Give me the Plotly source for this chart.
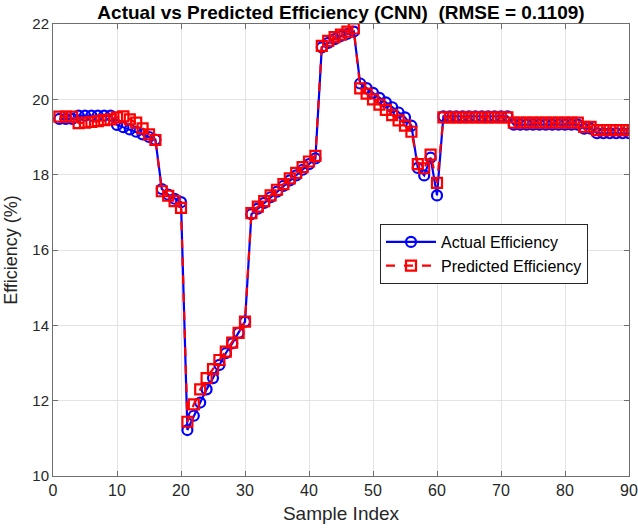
import plotly.graph_objects as go

sample_index = list(range(1, 91))

actual = [
    19.48, 19.48, 19.48, 19.57, 19.57, 19.57, 19.57, 19.57, 19.57, 19.32,
    19.26, 19.20, 19.14, 19.07, 19.00, 18.93, 17.62, 17.47, 17.36, 17.27,
    11.22, 11.60, 11.95, 12.30, 12.60, 12.95, 13.26, 13.52, 13.80, 14.10,
    16.95, 17.10, 17.25, 17.40, 17.55, 17.70, 17.85, 17.98, 18.13, 18.28,
    18.43, 21.38, 21.50, 21.60, 21.68, 21.74, 21.80, 20.42, 20.30, 20.17,
    20.04, 19.92, 19.79, 19.65, 19.52, 19.30, 18.18, 17.98, 18.45, 17.45,
    19.55, 19.55, 19.55, 19.55, 19.55, 19.55, 19.55, 19.55, 19.55, 19.55,
    19.55, 19.33, 19.33, 19.33, 19.33, 19.33, 19.33, 19.33, 19.33, 19.33,
    19.33, 19.33, 19.22, 19.22, 19.10, 19.10, 19.10, 19.10, 19.10, 19.10,
]

predicted = [
    19.54, 19.54, 19.54, 19.37, 19.38, 19.40, 19.42, 19.45, 19.47, 19.52,
    19.55, 19.47, 19.38, 19.23, 19.07, 18.92, 17.56, 17.44, 17.30, 17.12,
    11.44, 11.90, 12.30, 12.60, 12.84, 13.08, 13.30, 13.54, 13.80, 14.10,
    16.98, 17.15, 17.30, 17.45, 17.60, 17.75, 17.90, 18.05, 18.20, 18.35,
    18.50, 21.42, 21.55, 21.65, 21.72, 21.80, 21.88, 20.29, 20.15, 20.00,
    19.86, 19.72, 19.58, 19.44, 19.30, 19.14, 18.28, 18.17, 18.53, 17.78,
    19.52, 19.52, 19.52, 19.52, 19.52, 19.52, 19.52, 19.52, 19.52, 19.52,
    19.52, 19.38, 19.38, 19.38, 19.38, 19.38, 19.38, 19.38, 19.38, 19.38,
    19.38, 19.38, 19.27, 19.27, 19.18, 19.18, 19.18, 19.18, 19.18, 19.18,
]

x_ticks = [0, 10, 20, 30, 40, 50, 60, 70, 80, 90]
y_ticks = [10, 12, 14, 16, 18, 20, 22]

FONT = "Liberation Sans, Arial"

fig = go.Figure()
fig.add_trace(go.Scatter(
    x=sample_index, y=actual, mode="lines+markers", name="Actual Efficiency",
    line=dict(color="#0000FF", width=2.2),
    marker=dict(symbol="circle-open", size=10, color="#0000FF", line=dict(width=2.2, color="#0000FF")),
))
fig.add_trace(go.Scatter(
    x=sample_index, y=predicted, mode="lines+markers", name="Predicted Efficiency",
    line=dict(color="#FF0000", width=2.2, dash="dash"),
    marker=dict(symbol="square-open", size=10, color="#FF0000", line=dict(width=2.2, color="#FF0000")),
))

axis_common = dict(
    showgrid=True, gridcolor="#E3E3E3", gridwidth=1,
    showline=True, linecolor="#6E6E6E", linewidth=1, mirror="ticks",
    ticks="inside", ticklen=5, tickcolor="#6E6E6E",
    zeroline=False, automargin=False,
)

fig.update_layout(
    width=638, height=531,
    margin=dict(l=53, r=9, t=24, b=55),
    paper_bgcolor="white", plot_bgcolor="white",
    title=dict(
        text="<b>Actual vs Predicted Efficiency (CNN)  (RMSE = 0.1109)</b>",
        x=(53 + 629) / 2 / 638, xanchor="center", y=1 - 12 / 531, yanchor="middle",
        font=dict(family=FONT, size=19, color="#000000"),
    ),
    xaxis=dict(
        range=[0, 90], tickvals=x_ticks,
        tickfont=dict(family=FONT, size=16, color="#262626"),
        title=dict(text="Sample Index", font=dict(family=FONT, size=19, color="#262626"), standoff=8),
        **axis_common,
    ),
    yaxis=dict(
        range=[10, 22], tickvals=y_ticks,
        tickfont=dict(family=FONT, size=15, color="#262626"),
        title=dict(text="Efficiency (%)", font=dict(family=FONT, size=18, color="#262626"), standoff=10),
        **axis_common,
    ),
    legend=dict(
        x=(380 - 53) / 576, y=(476 - 224) / 452, xanchor="left", yanchor="top",
        bgcolor="white", bordercolor="#262626", borderwidth=1,
        font=dict(family=FONT, size=16, color="#000000"),
        tracegroupgap=0, itemwidth=50,
    ),
    showlegend=True,
)

fig.write_html("out.html")
